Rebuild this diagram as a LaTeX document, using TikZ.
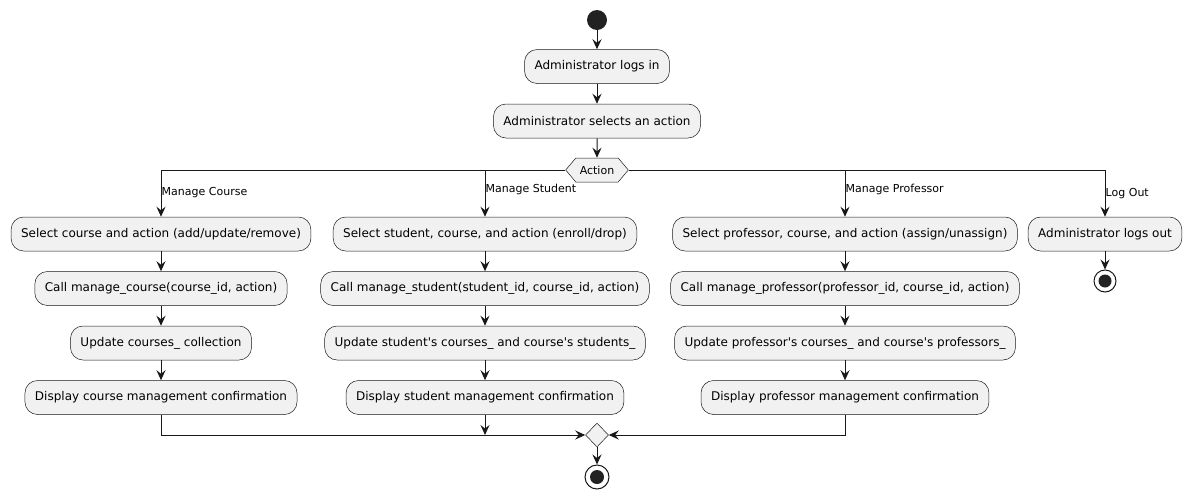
\documentclass[tikz,border=0pt]{standalone}
\usepackage{fontspec}
\setmainfont{DejaVu Sans}
\usepackage{tikz}
\usetikzlibrary{positioning, arrows.meta, shapes.geometric, shapes.symbols}
\definecolor{actfill}{HTML}{F1F1F1}
\definecolor{ink}{HTML}{181818}
\definecolor{dot}{HTML}{222222}
\newcommand{\ap}{\textquotesingle}

\begin{document}
\begin{tikzpicture}[
    x=1pt, y=-1pt,
    >={Stealth[length=10pt, width=9pt, inset=3.5pt]},
    node distance=20pt,
    act/.style={draw=ink, line width=0.5pt, fill=actfill,
                rounded corners=12.5pt, minimum height=34pt,
                inner xsep=10pt, font=\fontsize{12}{14}\selectfont},
    choice/.style={draw=ink, line width=0.5pt, fill=actfill,
                   shape=signal, signal to=west and east,
                   signal pointer angle=100, inner xsep=4pt,
                   minimum height=24pt, font=\fontsize{11}{13}\selectfont},
    merge/.style={draw=ink, line width=0.5pt, fill=actfill, diamond,
                  inner sep=0pt, minimum width=23pt, minimum height=24pt},
    lbl/.style={anchor=west, inner sep=0.5pt, font=\fontsize{11}{13}\selectfont},
    flow/.style={->, draw=ink, line width=1pt},
]
\useasboundingbox (0,0) rectangle (1192,499);
\node[circle, fill=dot, minimum size=20pt, inner sep=0pt] (start) at (597,20) {};
\node[act] (login) at (597,66.5) {Administrator logs in};
\node[act, below=of login] (pick) {Administrator selects an action};
\node[choice] (action) at (597,170) {Action};
% course branch
\node[act] (sel1) at (161,234) {Select course and action (add/update/remove)};
\node[act, below=of sel1] (call1) {Call manage\_course(course\_id, action)};
\node[act, below=of call1] (upd1) {Update courses\_ collection};
\node[act, below=of upd1] (disp1) {Display course management confirmation};
% student branch
\node[act] (sel2) at (485,234) {Select student, course, and action (enroll/drop)};
\node[act, below=of sel2] (call2) {Call manage\_student(student\_id, course\_id, action)};
\node[act, below=of call2] (upd2) {Update student\ap s courses\_ and course\ap s students\_};
\node[act, below=of upd2] (disp2) {Display student management confirmation};
% professor branch
\node[act] (sel3) at (845,234) {Select professor, course, and action (assign/unassign)};
\node[act, below=of sel3] (call3) {Call manage\_professor(professor\_id, course\_id, action)};
\node[act, below=of call3] (upd3) {Update professor\ap s courses\_ and course\ap s professors\_};
\node[act, below=of upd3] (disp3) {Display professor management confirmation};
% log out branch
\node[act] (logout) at (1105,234) {Administrator logs out};
\node[circle, draw=ink, line width=1pt, fill=white, minimum size=22pt, inner sep=0pt] (stop1) at (1105,281) {};
\fill[dot] (stop1) circle (6.5pt);
% branch labels
\node[lbl] (l1) at (161,193) {Manage Course};
\node[lbl] (l2) at (485,189) {Manage Student};
\node[lbl] (l3) at (845,189) {Manage Professor};
\node[lbl] (l4) at (1105,194) {Log Out};
% merge and end
\node[merge] (join) at (597,435) {};
\node[circle, draw=ink, line width=1pt, fill=white, minimum size=24pt, inner sep=0pt] (stop2) at (597,477) {};
\fill[dot] (stop2) circle (7pt);
\coordinate (j2) at (disp2.south |- join.west);

\draw[flow] (start) -- (login);
\draw[flow] (login) -- (pick);
\draw[flow] (pick) -- (action);
\draw[flow] (action.west) -| (sel1.north);
\draw[flow] (action.west) -| (sel2.north);
\draw[flow] (action.east) -| (sel3.north);
\draw[flow] (action.east) -| (logout.north);
\foreach \i in {1,2,3} {
    \draw[flow] (sel\i) -- (call\i);
    \draw[flow] (call\i) -- (upd\i);
    \draw[flow] (upd\i) -- (disp\i);
}
\draw[flow] (logout) -- (stop1);
\draw[flow] (disp1.south) |- (join.west);
\draw[flow] (disp2.south) -- (j2);
\draw[flow] (disp3.south) |- (join.east);
\draw[flow] (join) -- (stop2);
\end{tikzpicture}
\end{document}
